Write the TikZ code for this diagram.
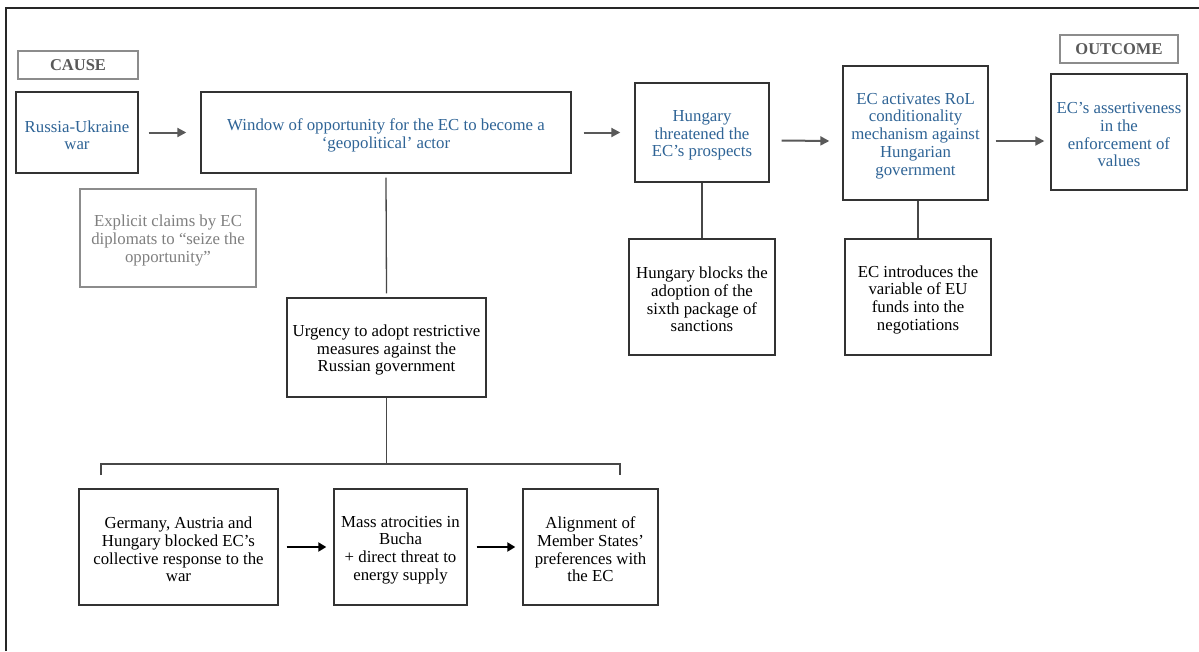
\documentclass[tikz,border=0pt]{standalone}
\usepackage{fontspec}
\setmainfont{Liberation Serif}
\usetikzlibrary{arrows.meta}
\definecolor{ecblue}{HTML}{2F6496}
\definecolor{arrgrey}{HTML}{595959}
\definecolor{lightbox}{HTML}{8C8C8C}
\definecolor{greytext}{HTML}{7F7F7F}
\definecolor{boxline}{HTML}{333333}
\newcommand{\tstr}{\rule{0pt}{17pt}}
\tikzset{
  box/.style={draw=boxline, line width=1.4pt, inner sep=1pt, align=center,
    font=\fontsize{16.8}{17.7}\selectfont},
  bluebox/.style={box, text=ecblue},
  greybox/.style={box, draw=lightbox, line width=1.2pt, text=greytext},
  labelbox/.style={draw=lightbox, line width=1.2pt, inner sep=0pt, align=center,
    text=arrgrey, font=\fontsize{16.5}{17}\selectfont\bfseries},
  garr/.style={draw=arrgrey, line width=2pt, -{Triangle[length=9pt,width=9pt]}},
  barr/.style={draw=black, line width=2.4pt, -{Triangle[length=8pt,width=9pt]}},
  conn/.style={draw=arrgrey!80!black, line width=1.3pt},
}
\begin{document}
\begin{tikzpicture}[x=1pt,y=-1pt]
\useasboundingbox (0,0) rectangle (1199,651);
\fill[white] (0,0) rectangle (1199,651);
% frame (partly cropped)
\draw[line width=2pt, black!85] (6,651) -- (6,8) -- (1199,8);

% label boxes
\node[labelbox, minimum width=120pt, minimum height=28pt] (cause) at (78,65) {CAUSE};
\node[labelbox, minimum width=118pt, minimum height=28pt] (outcome) at (1119,49) {OUTCOME};

% top row
\node[bluebox, minimum width=122pt, minimum height=81pt] (russia) at (77,132.5) {\tstr Russia-Ukraine\\war};
\node[bluebox, minimum width=370pt, minimum height=81pt] (window) at (386,132.5) {\tstr Window of opportunity for the EC to become a\\‘geopolitical’ actor};
\node[bluebox, minimum width=134pt, minimum height=99pt] (hthreat) at (702,132.5) {\tstr Hungary\\threatened the\\EC’s prospects};
\node[bluebox, minimum width=145pt, minimum height=134pt] (ecact) at (915.5,133) {\tstr EC activates RoL\\conditionality\\mechanism against\\Hungarian\\government};
\node[bluebox, minimum width=136pt, minimum height=116pt] (assert) at (1119,132) {\tstr EC’s assertiveness\\in the\\enforcement of\\values};

% explicit claims
\node[greybox, minimum width=176pt, minimum height=98pt] (explicit) at (168,238) {\tstr Explicit claims by EC\\diplomats to “seize the\\opportunity”};

% second row
\node[box, minimum width=199pt, minimum height=99pt] (urgency) at (386.5,347.5) {\tstr Urgency to adopt restrictive\\measures against the\\Russian government};
\node[box, minimum width=146pt, minimum height=116pt] (hblocks) at (702,297) {\tstr Hungary blocks the\\adoption of the\\sixth package of\\sanctions};
\node[box, minimum width=146pt, minimum height=116pt] (ecintro) at (918,297) {\tstr EC introduces the\\variable of EU\\funds into the\\negotiations};

% bottom row
\node[box, minimum width=199pt, minimum height=116pt] (germany) at (178.5,547) {\tstr Germany, Austria and\\Hungary blocked EC’s\\collective response to the\\war};
\node[box, minimum width=133pt, minimum height=116pt] (mass) at (400.5,547) {\tstr Mass atrocities in\\Bucha\\+ direct threat to\\energy supply};
\node[box, minimum width=135pt, minimum height=116pt] (align) at (590.5,547) {\tstr Alignment of\\Member States’\\preferences with\\the EC};

% grey arrows top row
\draw[garr] ([xshift=10pt]russia.east) -- ([xshift=-14pt]window.west);
\draw[garr] ([xshift=12pt]window.east) -- ([xshift=-14pt]hthreat.west);
\draw[garr] ([xshift=12pt,yshift=-8pt]hthreat.east) -- ([xshift=-13pt,yshift=-8pt]ecact.west);
\draw[garr] ([xshift=7pt,yshift=-8pt]ecact.east) -- ([xshift=-6pt,yshift=-9pt]assert.west);

% vertical connectors
\draw[conn] ([yshift=-4pt]window.south) -- ([yshift=4pt]urgency.north);
\draw[conn] (hthreat.south) -- (hblocks.north);
\draw[conn] ([xshift=2.5pt]ecact.south) -- (ecintro.north);

% bracket
\coordinate (bj) at (386.5,464);
\coordinate (bl) at (101,464);
\coordinate (br) at (620,464);
\coordinate (blt) at (101,475);
\coordinate (brt) at (620,475);
\draw[conn] (urgency.south) -- (bj);
\draw[conn] (blt) -- (bl) -- (br) -- (brt);

% black arrows bottom row
\draw[barr] ([xshift=8pt]germany.east) -- ([xshift=-7pt]mass.west);
\draw[barr] ([xshift=9pt]mass.east) -- ([xshift=-7pt]align.west);
\end{tikzpicture}
\end{document}
